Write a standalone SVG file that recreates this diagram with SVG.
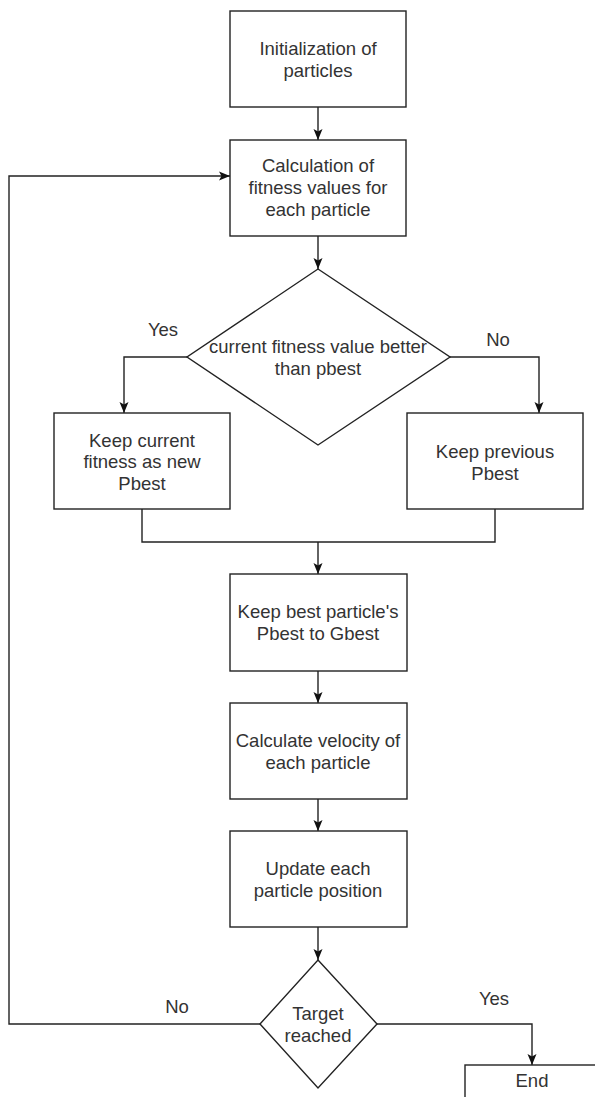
<svg xmlns="http://www.w3.org/2000/svg" width="595" height="1097" viewBox="0 0 595 1097">
<style>
.n{fill:#fff;stroke:#222;stroke-width:1.4}
.t{font-family:"Liberation Sans",Arial,sans-serif;font-size:18.5px;fill:#333;text-anchor:middle}
.c{fill:none;stroke:#222;stroke-width:1.4}
</style>
<defs>
<marker id="ah" markerUnits="userSpaceOnUse" markerWidth="11" markerHeight="10" viewBox="0 0 11 10" refX="11" refY="5" orient="auto">
<path d="M0,0.5 L11,5 L0,9.5 L2.5,5 z" fill="#111"/>
</marker>
</defs>
<rect width="595" height="1097" fill="#fff"/>
<g id="connectors">
<path class="c" d="M318,107 V140" marker-end="url(#ah)"/>
<path class="c" d="M318,236 V269" marker-end="url(#ah)"/>
<path class="c" d="M187,357 H124 V413" marker-end="url(#ah)"/>
<path class="c" d="M450,357 H539 V413" marker-end="url(#ah)"/>
<path class="c" d="M142,509 V542 H495 V509"/>
<path class="c" d="M318,542 V574" marker-end="url(#ah)"/>
<path class="c" d="M318,671 V703" marker-end="url(#ah)"/>
<path class="c" d="M318,799 V831" marker-end="url(#ah)"/>
<path class="c" d="M318,927 V960" marker-end="url(#ah)"/>
<path class="c" d="M260,1024 H9 V176 H230" marker-end="url(#ah)"/>
<path class="c" d="M377,1024 H532 V1065" marker-end="url(#ah)"/>
<text class="t" x="163" y="336">Yes</text>
<text class="t" x="498" y="346">No</text>
<text class="t" x="177" y="1013">No</text>
<text class="t" x="494" y="1005">Yes</text>
</g>
<g id="init">
<rect class="n" x="230" y="11" width="176" height="96"/>
<text class="t" x="318" y="55">Initialization of</text>
<text class="t" x="318" y="77">particles</text>
</g>
<g id="calcFitness">
<rect class="n" x="230" y="140" width="176" height="96"/>
<text class="t" x="318" y="172">Calculation of</text>
<text class="t" x="318" y="194">fitness values for</text>
<text class="t" x="318" y="216">each particle</text>
</g>
<g id="decision1">
<polygon class="n" points="318,269 450,357 318,445 187,357"/>
<text class="t" x="318" y="353">current fitness value better</text>
<text class="t" x="318" y="375">than pbest</text>
</g>
<g id="keepCurrent">
<rect class="n" x="54" y="413" width="176" height="96"/>
<text class="t" x="142" y="447">Keep current</text>
<text class="t" x="142" y="468">fitness as new</text>
<text class="t" x="142" y="490">Pbest</text>
</g>
<g id="keepPrevious">
<rect class="n" x="407" y="413" width="176" height="96"/>
<text class="t" x="495" y="458">Keep previous</text>
<text class="t" x="495" y="480">Pbest</text>
</g>
<g id="keepBest">
<rect class="n" x="230" y="574" width="177" height="97"/>
<text class="t" x="318" y="618">Keep best particle's</text>
<text class="t" x="318" y="640">Pbest to Gbest</text>
</g>
<g id="velocity">
<rect class="n" x="230" y="703" width="177" height="96"/>
<text class="t" x="318" y="747">Calculate velocity of</text>
<text class="t" x="318" y="769">each particle</text>
</g>
<g id="update">
<rect class="n" x="230" y="831" width="177" height="96"/>
<text class="t" x="318" y="875">Update each</text>
<text class="t" x="318" y="897">particle position</text>
</g>
<g id="decision2">
<polygon class="n" points="318,960 377,1024 318,1088 260,1024"/>
<text class="t" x="318" y="1020">Target</text>
<text class="t" x="318" y="1042">reached</text>
</g>
<g id="end">
<rect class="n" x="465" y="1065" width="140" height="60"/>
<text class="t" x="532" y="1087">End</text>
</g>
</svg>
